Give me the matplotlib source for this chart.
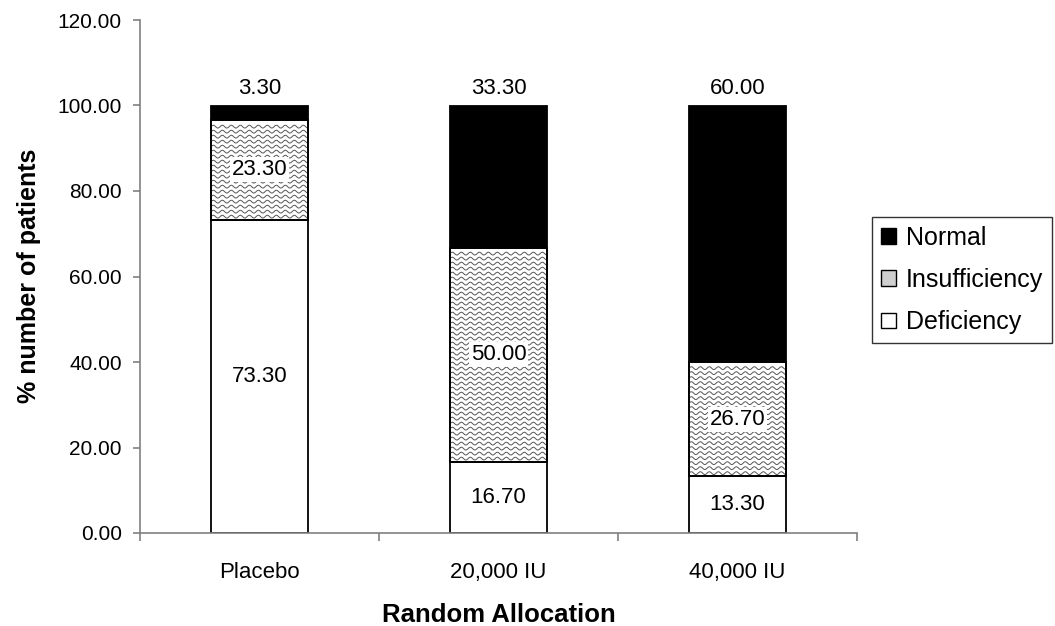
import numpy as np
import matplotlib
matplotlib.use("Agg")
import matplotlib.pyplot as plt
from matplotlib.collections import LineCollection
from matplotlib.patches import Patch

plt.rcParams['font.family'] = ['Liberation Sans', 'DejaVu Sans']

categories = ["Placebo", "20,000 IU", "40,000 IU"]
deficiency = [73.30, 16.70, 13.30]
insufficiency = [23.30, 50.00, 26.70]
normal = [3.30, 33.30, 60.00]
yticks = [0, 20, 40, 60, 80, 100, 120]

W, H = 1055, 626
fig = plt.figure(figsize=(W / 100, H / 100), dpi=100)
ax = fig.add_axes([140 / W, 1 - 533 / H, 717 / W, 513 / H])

x = np.arange(len(categories))
bw = 0.405
edge = dict(edgecolor='black', linewidth=1.3)
b_def = ax.bar(x, deficiency, bw, color='white', **edge, zorder=2)
b_ins = ax.bar(x, insufficiency, bw, bottom=deficiency, color='white', **edge, zorder=2)
bottom_n = [d + i for d, i in zip(deficiency, insufficiency)]
b_nor = ax.bar(x, normal, bw, bottom=bottom_n, color='black', **edge, zorder=3)

ax.set_xlim(-0.5, len(categories) - 0.5)
ax.set_ylim(0, 120)

# wavy texture for insufficiency segments (clipped to each bar)
fig.canvas.draw()
px_x = 1.0 / (ax.transData.transform((1, 0))[0] - ax.transData.transform((0, 0))[0])
px_y = 1.0 / (ax.transData.transform((0, 1))[1] - ax.transData.transform((0, 0))[1])
period_px, row_px, amp_px = 9.0, 5.0, 1.4
for patch in b_ins.patches:
    x0, y0 = patch.get_x(), patch.get_y()
    w, h = patch.get_width(), patch.get_height()
    xs = np.linspace(x0, x0 + w, 200)
    segs = []
    yy = y0 + 3.0 * px_y
    while yy < y0 + h - 2.5 * px_y:
        ys = yy + amp_px * px_y * np.sin(2 * np.pi * (xs - x0) / (period_px * px_x))
        segs.append(np.column_stack([xs, ys]))
        yy += row_px * px_y
    lc = LineCollection(segs, colors='#555555', linewidths=0.7, zorder=2.5)
    lc.set_clip_path(patch)
    ax.add_collection(lc)
    ax.bar(patch.get_x() + w / 2, h, w, bottom=y0, fill=False, edgecolor='black',
           linewidth=1.3, zorder=3.5)

# value labels
for i in range(len(categories)):
    ax.text(x[i], deficiency[i] / 2, f"{deficiency[i]:.2f}", ha='center', va='center',
            fontsize=16, zorder=4)
    ax.text(x[i], deficiency[i] + insufficiency[i] / 2, f"{insufficiency[i]:.2f}",
            ha='center', va='center', fontsize=16, zorder=4,
            bbox=dict(facecolor='white', edgecolor='none', pad=1.5))
    ax.annotate(f"{normal[i]:.2f}", (x[i], bottom_n[i] + normal[i]), xytext=(0, 5),
                textcoords='offset points', ha='center', va='bottom', fontsize=16)

# axes styling
for s in ['top', 'right']:
    ax.spines[s].set_visible(False)
for s in ['left', 'bottom']:
    ax.spines[s].set_color('#808080')
    ax.spines[s].set_linewidth(1.2)
ax.set_yticks(yticks)
ax.set_yticklabels([f"{v:.2f}" for v in yticks], fontsize=15)
ax.tick_params(axis='y', direction='out', length=5, width=1.2, color='#808080', pad=8)
ax.set_xticks(x)
ax.set_xticklabels(categories, fontsize=16)
ax.tick_params(axis='x', which='major', length=0, pad=21)
ax.set_xticks(np.arange(len(categories) + 1) - 0.5, minor=True)
ax.tick_params(axis='x', which='minor', direction='out', length=6, width=1.2, color='#808080')

fig.text((140 + 857) / 2 / W, 1 - 622 / H, "Random Allocation", ha='center', va='baseline',
         fontsize=18.5, fontweight='bold')
fig.text(29 / W, 1 - 276 / H, "% number of patients", ha='center', va='center',
         rotation=90, fontsize=18, fontweight='bold')

handles = [Patch(facecolor='black', edgecolor='black', label='Normal'),
           Patch(facecolor='#cfcfcf', edgecolor='black', label='Insufficiency'),
           Patch(facecolor='white', edgecolor='black', label='Deficiency')]
leg = fig.legend(handles=handles, loc='upper left', bbox_to_anchor=(872 / W, 1 - 217 / H),
                 fontsize=18, frameon=True, fancybox=False, handlelength=0.6,
                 handleheight=0.6, handletextpad=0.4, borderpad=0.35, labelspacing=0.73,
                 borderaxespad=0)
leg.get_frame().set_edgecolor('black')
leg.get_frame().set_linewidth(1.0)

fig.savefig("out.png", dpi=100)
